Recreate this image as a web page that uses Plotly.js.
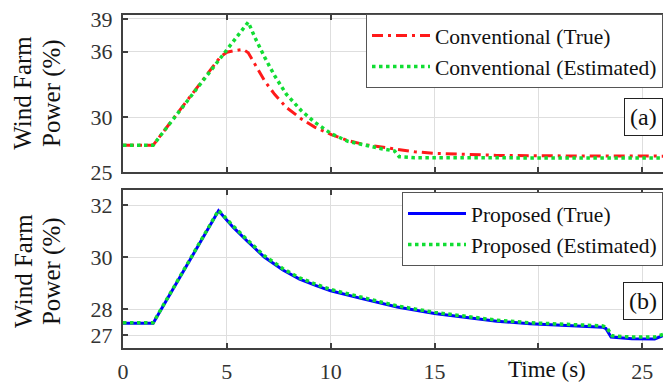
<!DOCTYPE html>
<html>
<head>
<meta charset="utf-8">
<script src="https://cdn.plot.ly/plotly-3.0.1.min.js"></script>
<style>html,body{margin:0;padding:0;background:#fff;}#chart{width:663px;height:383px;}</style>
</head>
<body>
<div id="chart"></div>
<script>
// ---- Panel (a): Conventional ----
var convTrueT = [0, 1.45, 4.7, 5.0, 5.4, 5.8, 6.03, 6.35, 6.83, 7.3, 7.87, 8.59, 9.23, 10.03, 10.83, 11.63, 12.44, 13.24, 14.04, 15, 16.5, 18, 20, 23, 26];
var convTrueV = [27.45, 27.45, 35.55, 35.95, 36.1, 36.2, 35.9, 34.85, 33.3, 32.1, 30.9, 29.85, 29.1, 28.42, 27.88, 27.5, 27.27, 27.03, 26.85, 26.7, 26.6, 26.52, 26.48, 26.45, 26.45];
var convEstT = [0, 1.45, 6.03, 6.35, 6.83, 7.3, 7.87, 8.59, 9.23, 10.03, 10.83, 11.63, 12.44, 13.08, 13.3, 14.04, 26];
var convEstV = [27.45, 27.45, 38.7, 37.3, 35.45, 33.8, 32.1, 30.6, 29.55, 28.5, 27.8, 27.43, 27.13, 26.92, 26.4, 26.3, 26.28];

// ---- Panel (b): Proposed ----
var propTrueT = [0, 1.45, 4.6, 5.3, 6.0, 6.8, 7.7, 8.5, 9.3, 10.0, 11.5, 13.2, 15, 16.4, 18, 19.6, 21.2, 23.1, 23.25, 23.5, 24.5, 25.6, 26];
var propTrueV = [27.45, 27.45, 31.78, 31.15, 30.6, 30.0, 29.5, 29.15, 28.9, 28.7, 28.4, 28.08, 27.83, 27.68, 27.53, 27.43, 27.36, 27.3, 27.25, 26.92, 26.86, 26.85, 26.98];
var propEstT = [0, 1.45, 4.6, 5.3, 6.0, 6.8, 7.7, 8.5, 9.3, 10.0, 11.5, 13.2, 15, 16.4, 18, 19.6, 21.2, 23.1, 23.3, 23.55, 24.5, 25.6, 26];
var propEstV = [27.47, 27.47, 31.8, 31.2, 30.65, 30.05, 29.55, 29.2, 28.95, 28.75, 28.45, 28.12, 27.87, 27.72, 27.57, 27.47, 27.41, 27.35, 27.28, 26.97, 26.92, 26.92, 27.02];

var xTickVals = [0, 5, 10, 15, 20, 25];
var xTickText = ['0', '5', '10', '15', '', '25'];
var yTickValsA = [25, 30, 36, 39];
var yTickValsB = [27, 28, 30, 32];

var serif = 'Liberation Serif, Times New Roman, serif';
var green = '#11dd33';

var traces = [
  {x: convTrueT, y: convTrueV, xaxis: 'x', yaxis: 'y', mode: 'lines', name: 'Conventional (True)',
   line: {color: '#ff1a1a', width: 3, dash: '11px,5px,3px,5px'}, legend: 'legend'},
  {x: convEstT, y: convEstV, xaxis: 'x', yaxis: 'y', mode: 'lines', name: 'Conventional (Estimated)',
   line: {color: green, width: 3.5, dash: '3.5px,3.5px'}, legend: 'legend'},
  {x: propTrueT, y: propTrueV, xaxis: 'x2', yaxis: 'y2', mode: 'lines', name: 'Proposed (True)',
   line: {color: '#0000ff', width: 3}, legend: 'legend2'},
  {x: propEstT, y: propEstV, xaxis: 'x2', yaxis: 'y2', mode: 'lines', name: 'Proposed (Estimated)',
   line: {color: green, width: 3.5, dash: '3.5px,3.5px'}, legend: 'legend2'}
];

var axCommon = {
  showline: true, linecolor: '#404040', linewidth: 2,
  ticks: 'inside', ticklen: 5, tickwidth: 2, tickcolor: '#404040',
  showgrid: true, gridcolor: '#dedede', gridwidth: 1,
  zeroline: false,
  tickfont: {family: serif, size: 22, color: '#333'}
};

function ax(extra) { return Object.assign({}, axCommon, extra); }

var legendCommon = {
  bgcolor: '#ffffff', bordercolor: '#555', borderwidth: 1,
  font: {family: serif, size: 21.5, color: '#111'},
  xanchor: 'right', yanchor: 'top', x: 1, itemwidth: 58,
  tracegroupgap: 0
};

var titleFont = {family: serif, size: 25, color: '#111'};

var layout = {
  width: 663, height: 383,
  margin: {l: 123, r: 0, t: 15, b: 35},
  paper_bgcolor: '#fff', plot_bgcolor: '#fff',
  showlegend: true,
  xaxis: ax({domain: [0, 1], range: [0, 26], tickvals: xTickVals, showticklabels: false, mirror: 'ticks', anchor: 'y'}),
  yaxis: ax({domain: [0.5285, 1], range: [25, 39.35], tickvals: yTickValsA, ticklabelstandoff: 4, anchor: 'x'}),
  xaxis2: ax({domain: [0, 1], range: [0, 26], tickvals: xTickVals, ticktext: xTickText, mirror: 'ticks', anchor: 'y2', ticklabelstandoff: 3}),
  yaxis2: ax({domain: [0, 0.4745], range: [26.5, 32.58], tickvals: yTickValsB, ticklabelstandoff: 4, anchor: 'x2'}),
  legend: Object.assign({}, legendCommon, {y: 1.003}),
  legend2: Object.assign({}, legendCommon, {y: 0.4685}),
  annotations: [
    {text: 'Wind Farm', xref: 'paper', yref: 'paper', x: -0.1855, y: 0.766,
     xanchor: 'center', yanchor: 'middle', textangle: -90, showarrow: false, font: titleFont},
    {text: 'Power (%)', xref: 'paper', yref: 'paper', x: -0.1315, y: 0.766,
     xanchor: 'center', yanchor: 'middle', textangle: -90, showarrow: false, font: titleFont},
    {text: 'Wind Farm', xref: 'paper', yref: 'paper', x: -0.1855, y: 0.231,
     xanchor: 'center', yanchor: 'middle', textangle: -90, showarrow: false, font: titleFont},
    {text: 'Power (%)', xref: 'paper', yref: 'paper', x: -0.1315, y: 0.231,
     xanchor: 'center', yanchor: 'middle', textangle: -90, showarrow: false, font: titleFont},
    {text: 'Time (s)', xref: 'paper', yref: 'paper', x: 0.785, y: -0.066,
     xanchor: 'center', yanchor: 'middle', showarrow: false,
     font: {family: serif, size: 23, color: '#111'}},
    {text: '(a)', xref: 'paper', yref: 'paper', x: 1, y: 0.694,
     xanchor: 'right', yanchor: 'middle', showarrow: false,
     bgcolor: '#fff', bordercolor: '#222', borderwidth: 1, borderpad: 5,
     font: {family: serif, size: 24, color: '#111'}},
    {text: '(b)', xref: 'paper', yref: 'paper', x: 1, y: 0.141,
     xanchor: 'right', yanchor: 'middle', showarrow: false,
     bgcolor: '#fff', bordercolor: '#222', borderwidth: 1, borderpad: 5,
     font: {family: serif, size: 24, color: '#111'}}
  ]
};

Plotly.newPlot('chart', traces, layout, {displayModeBar: false, staticPlot: true});
</script>
</body>
</html>
